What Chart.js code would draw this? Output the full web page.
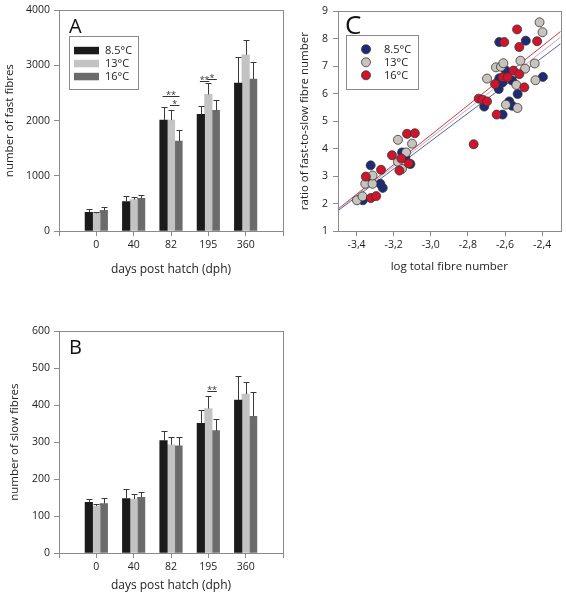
<!DOCTYPE html>
<html>
<head>
<meta charset="utf-8">
<script src="https://cdn.jsdelivr.net/npm/chart.js@4.4.1/dist/chart.umd.min.js"></script>
<style>
body { margin: 0; background: #fff; }
canvas { position: absolute; }
#chartA { left: 0; top: 0; }
#chartB { left: 0; top: 321px; }
#chartC { left: 290px; top: 0; }
</style>
</head>
<body>
<canvas id="chartA" width="290" height="290"></canvas>
<canvas id="chartB" width="290" height="279"></canvas>
<canvas id="chartC" width="276" height="280"></canvas>
<script>
// groups and series
var days = ['0', '40', '82', '195', '360'];
var temps = ['8.5°C', '13°C', '16°C'];

// A - fast fibres (mean, upper SE)
var fast85 = [340, 535, 2010, 2115, 2680];
var fast13 = [320, 570, 2010, 2475, 3195];
var fast16 = [375, 590, 1630, 2185, 2755];
var fastErr85 = [60, 95, 230, 145, 480];
var fastErr13 = [25, 45, 180, 215, 275];
var fastErr16 = [65, 60, 195, 185, 300];

// B - slow fibres
var slow85 = [137, 147, 304, 351, 414];
var slow13 = [127, 146, 293, 391, 430];
var slow16 = [134, 151, 290, 331, 370];
var slowErr85 = [9, 26, 25, 36, 64];
var slowErr13 = [5, 14, 22, 33, 34];
var slowErr16 = [16, 13, 25, 33, 66];

// significance bars: group, from series, to series, height, label
var sigFast = [
    {group: '82', from: 0, to: 2, value: 2440, text: '**'},
    {group: '82', from: 1, to: 2, value: 2290, text: '*'},
    {group: '195', from: 0, to: 1, value: 2725, text: '**'},
    {group: '195', from: 1, to: 2, value: 2755, text: '*'}
];
var sigSlow = [
    {group: '195', from: 1, to: 2, value: 438, text: '**'}
];

// C - log total fibre number vs fast/slow ratio
var ratio85 = [
    [-3.324, 3.39], [-3.366, 2.12], [-3.326, 2.87], [-3.272, 2.72], [-3.259, 2.57],
    [-3.155, 3.86], [-3.137, 3.68], [-3.110, 3.44], [-2.712, 5.53], [-2.631, 7.88],
    [-2.488, 7.93], [-2.631, 6.56], [-2.634, 6.17], [-2.613, 6.41], [-2.595, 6.84],
    [-2.577, 5.72], [-2.562, 5.56], [-2.613, 5.24], [-2.562, 6.48], [-2.532, 5.99],
    [-2.396, 6.61]
];
var ratio13 = [
    [-3.398, 2.12], [-3.368, 2.26], [-3.353, 2.72], [-3.314, 2.72], [-3.314, 3.02],
    [-3.177, 4.32], [-3.177, 3.52], [-3.155, 3.26], [-3.133, 3.86], [-3.101, 4.18],
    [-2.697, 6.55], [-2.649, 6.96], [-2.622, 6.98], [-2.609, 7.11], [-2.595, 5.60],
    [-2.539, 6.32], [-2.533, 5.48], [-2.517, 7.20], [-2.492, 6.91], [-2.440, 7.10],
    [-2.436, 6.49], [-2.414, 8.60], [-2.398, 8.24]
];
var ratio16 = [
    [-3.350, 2.98], [-3.323, 2.20], [-3.294, 2.27], [-3.268, 3.23], [-3.209, 3.76],
    [-3.169, 3.20], [-3.159, 3.64], [-3.128, 4.54], [-3.086, 4.56], [-3.119, 3.46],
    [-2.769, 4.16], [-2.742, 5.82], [-2.721, 5.78], [-2.697, 5.72], [-2.654, 6.35],
    [-2.645, 5.24], [-2.604, 7.88], [-2.613, 6.60], [-2.586, 6.60], [-2.555, 6.84],
    [-2.535, 8.34], [-2.523, 7.70], [-2.523, 6.71], [-2.496, 6.23], [-2.427, 7.91]
];
// regression lines (ends)
var fit85 = [[-3.5, 1.74], [-2.3, 7.82]];
var fit13 = [[-3.5, 1.78], [-2.3, 8.06]];
var fit16 = [[-3.5, 1.80], [-2.3, 8.27]];
var logTicks = [-3.4, -3.2, -3.0, -2.8, -2.6, -2.4];

var barColors = ['#1b1b1b', '#c3c3c3', '#6b6b6b'];
var dotColors = ['#1d2b78', '#c9c3bd', '#d0142c'];
var fitColors = ['#5563a6', '#c8a8ae', '#d03848'];
var frameColor = '#8a8a8a';

Chart.defaults.font.family = "'Open Sans', sans-serif";
Chart.defaults.color = '#222';

function pad(arr) { return [null].concat(arr, [null]); }
function pts(arr) { return arr.map(function(p) { return {x: p[0], y: p[1]}; }); }

var panelPlugin = {
    id: 'panel',
    afterDatasetsDraw: function(chart, args, opts) {
        var ctx = chart.ctx, y = chart.scales.y;
        ctx.save();
        // error bars
        if (opts.errors) {
            ctx.strokeStyle = '#3a3a3a';
            ctx.lineWidth = 1;
            chart.data.datasets.forEach(function(ds, i) {
                chart.getDatasetMeta(i).data.forEach(function(bar, j) {
                    if (ds.data[j] == null) return;
                    var top = Math.round(y.getPixelForValue(ds.data[j] + ds.errors[j])) + 0.5;
                    var x = Math.round(bar.x) + 0.5;
                    ctx.beginPath();
                    ctx.moveTo(x, bar.y);
                    ctx.lineTo(x, top);
                    ctx.moveTo(x - 3, top);
                    ctx.lineTo(x + 3, top);
                    ctx.stroke();
                });
            });
        }
        // significance marks
        (opts.sig || []).forEach(function(s) {
            var j = days.indexOf(s.group) + 1;
            var x1 = chart.getDatasetMeta(s.from).data[j].x;
            var x2 = chart.getDatasetMeta(s.to).data[j].x;
            var py = Math.round(y.getPixelForValue(s.value)) + 0.5;
            ctx.strokeStyle = '#333';
            ctx.beginPath();
            ctx.moveTo(x1 - 1, py);
            ctx.lineTo(x2 + 1, py);
            ctx.stroke();
            ctx.fillStyle = '#333';
            ctx.font = '9px "Open Sans"';
            ctx.textAlign = 'center';
            ctx.textBaseline = 'alphabetic';
            ctx.fillText(s.text, (x1 + x2) / 2, py + 1);
        });
        ctx.restore();
    },
    afterDraw: function(chart, args, opts) {
        var ctx = chart.ctx, a = chart.chartArea;
        ctx.save();
        ctx.strokeStyle = frameColor;
        ctx.lineWidth = 1;
        ctx.strokeRect(Math.round(a.left) + 0.5, Math.round(a.top) + 0.5,
            Math.round(a.right - a.left), Math.round(a.bottom - a.top));
        // panel letter
        ctx.fillStyle = '#111';
        ctx.font = opts.letterFont;
        ctx.textAlign = 'left';
        ctx.textBaseline = 'alphabetic';
        ctx.fillText(opts.letter, a.left + opts.letterX, a.top + opts.letterY);
        // legend box
        if (opts.legend) {
            var L = opts.legend;
            var bx = a.left + L.x, by = a.top + L.y;
            ctx.strokeStyle = frameColor;
            ctx.strokeRect(Math.round(bx) + 0.5, Math.round(by) + 0.5, L.w, L.h);
            ctx.font = '11px "Open Sans"';
            ctx.textBaseline = 'middle';
            chart.data.datasets.slice(0, 3).forEach(function(ds, i) {
                var cy = by + L.rows[i];
                if (L.kind === 'bar') {
                    ctx.fillStyle = ds.backgroundColor;
                    ctx.fillRect(bx + 5, cy - 3.5, 25, 7.5);
                } else {
                    ctx.beginPath();
                    ctx.arc(bx + 20, cy, 4.5, 0, Math.PI * 2);
                    ctx.fillStyle = ds.backgroundColor;
                    ctx.fill();
                    ctx.strokeStyle = '#333';
                    ctx.lineWidth = 0.8;
                    ctx.stroke();
                }
                ctx.fillStyle = '#222';
                ctx.fillText(ds.label, bx + L.textX, cy + 0.5);
            });
        }
        ctx.restore();
    }
};

function plainNumber(v) { return String(v); }

function barChart(id, series, errs, yMax, yStep, yTitle, titlePad, xHeight, xTitlePad, letter, legend, sig) {
    return new Chart(document.getElementById(id), {
        type: 'bar',
        data: {
            labels: [''].concat(days, ['']),
            datasets: series.map(function(s, i) {
                return {
                    label: temps[i],
                    data: pad(s),
                    errors: pad(errs[i]),
                    backgroundColor: barColors[i],
                    barThickness: 7.5
                };
            })
        },
        options: {
            responsive: false,
            animation: false,
            layout: {padding: {top: 9, right: 7, left: 0, bottom: 0}},
            plugins: {
                legend: {display: false},
                tooltip: {enabled: false},
                panel: {letter: letter, letterFont: '20px "Open Sans"', letterX: 10, letterY: 23, errors: true, legend: legend, sig: sig}
            },
            scales: {
                x: {
                    offset: false,
                    grid: {offset: false, drawOnChartArea: false, tickLength: 5, tickColor: frameColor},
                    border: {color: frameColor},
                    ticks: {font: {size: 10.5}, padding: 3, maxRotation: 0, autoSkip: false},
                    title: {display: true, text: 'days post hatch (dph)', font: {size: 12}, padding: {bottom: xTitlePad, top: 0}},
                    afterFit: function(scale) { scale.height = xHeight; }
                },
                y: {
                    min: 0, max: yMax,
                    grid: {drawOnChartArea: false, tickLength: 5, tickColor: frameColor},
                    border: {color: frameColor},
                    ticks: {stepSize: yStep, font: {size: 10.5}, padding: 4, callback: plainNumber},
                    title: {display: true, text: yTitle, font: {size: 11.5}, padding: {top: titlePad}},
                    afterFit: function(scale) { scale.width = 59; }
                }
            }
        },
        plugins: [panelPlugin]
    });
}

barChart('chartA', [fast85, fast13, fast16], [fastErr85, fastErr13, fastErr16],
    4000, 1000, 'number of fast fibres', 3, 59, 13, 'A',
    {kind: 'bar', x: 10, y: 26, w: 69, h: 53, rows: [14, 27, 40], textX: 36}, sigFast);

barChart('chartB', [slow85, slow13, slow16], [slowErr85, slowErr13, slowErr16],
    600, 100, 'number of slow fibres', 8, 47, 7, 'B', null, sigSlow);

var scatterSets = [ratio85, ratio13, ratio16].map(function(r, i) {
    return {
        label: temps[i],
        data: pts(r),
        backgroundColor: dotColors[i],
        borderColor: '#333',
        borderWidth: 0.8,
        pointRadius: 4.5,
        order: 3 - i
    };
});
var fitSets = [fit85, fit13, fit16].map(function(f, i) {
    return {
        label: 'fit ' + temps[i],
        data: pts(f),
        showLine: true,
        borderColor: fitColors[i],
        borderWidth: 1,
        pointRadius: 0,
        order: 10
    };
});

new Chart(document.getElementById('chartC'), {
    type: 'scatter',
    data: {datasets: scatterSets.concat(fitSets)},
    options: {
        responsive: false,
        animation: false,
        layout: {padding: {top: 9, right: 5, left: 0, bottom: 0}},
        plugins: {
            legend: {display: false},
            tooltip: {enabled: false},
            panel: {letter: 'C', letterFont: '26px "Open Sans"', letterX: 7, letterY: 23, errors: false,
                legend: {kind: 'dot', x: 8, y: 24, w: 72, h: 54, rows: [14, 27, 40], textX: 38}}
        },
        scales: {
            x: {
                type: 'linear', min: -3.5, max: -2.3,
                afterBuildTicks: function(scale) {
                    scale.ticks = logTicks.map(function(v) { return {value: v}; });
                },
                grid: {drawOnChartArea: false, tickLength: 5, tickColor: frameColor},
                border: {color: frameColor},
                ticks: {font: {size: 10.5}, padding: 3, maxRotation: 0,
                    callback: function(v) { return v.toFixed(1).replace('.', ','); }},
                title: {display: true, text: 'log total fibre number', font: {size: 11.5}, padding: {bottom: 6, top: 0}},
                afterFit: function(scale) { scale.height = 49; }
            },
            y: {
                min: 1, max: 9,
                grid: {drawOnChartArea: false, tickLength: 5, tickColor: frameColor},
                border: {color: frameColor},
                ticks: {stepSize: 1, font: {size: 10.5}, padding: 5},
                title: {display: true, text: 'ratio of fast-to-slow fibre number', font: {size: 11.5}, padding: {top: 8}},
                afterFit: function(scale) { scale.width = 48; }
            }
        }
    },
    plugins: [panelPlugin]
});
</script>
</body>
</html>
